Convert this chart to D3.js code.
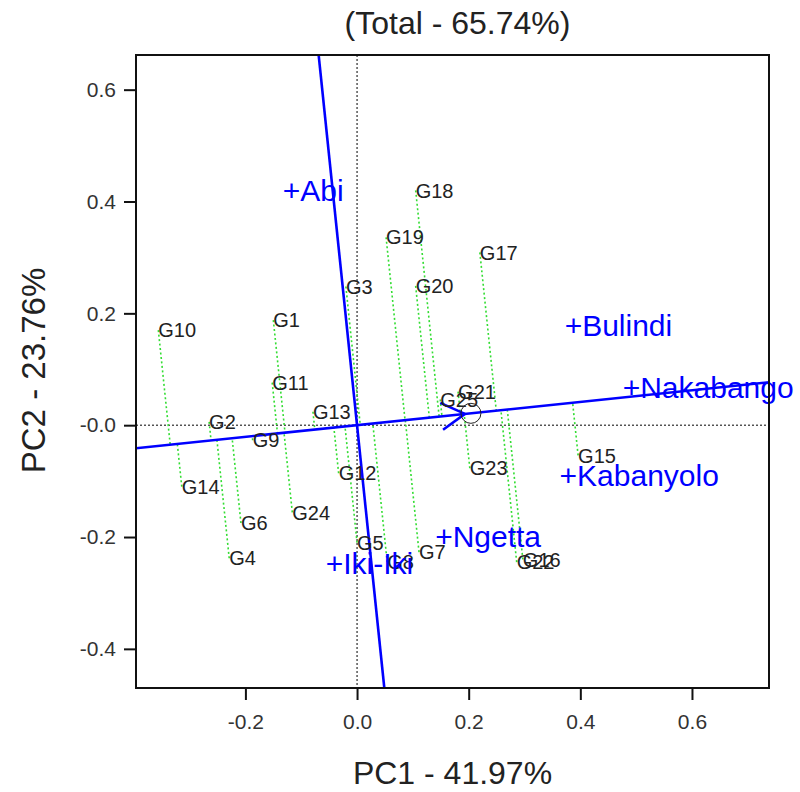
<!DOCTYPE html>
<html>
<head>
<meta charset="utf-8">
<script src="https://cdn.jsdelivr.net/npm/d3@7"></script>
<style>
  body { margin: 0; background: #fff; }
  text { font-family: "Liberation Sans", Arial, sans-serif; }
</style>
</head>
<body>
<script>
// GGE biplot, mean vs stability view
var genotypes = ['G1','G2','G3','G4','G5','G6','G7','G8','G9','G10','G11','G12','G13',
                 'G14','G15','G16','G17','G18','G19','G20','G21','G22','G23','G24','G25'];
var genoPC1 = [-0.150,-0.265,-0.020,-0.229, 0.000,-0.208, 0.111, 0.054,-0.187,-0.356,-0.152,-0.033,-0.079,
               -0.314, 0.396, 0.297, 0.220, 0.105, 0.052, 0.105, 0.181, 0.286, 0.202,-0.116, 0.149];
var genoPC2 = [ 0.188, 0.006, 0.248,-0.238,-0.210,-0.175,-0.227,-0.245,-0.027, 0.170, 0.076,-0.086, 0.024,
               -0.110,-0.054,-0.240, 0.309, 0.420, 0.336, 0.249, 0.060,-0.245,-0.077,-0.156, 0.046];

var environments = ['Abi','Bulindi','Nakabango','Kabanyolo','Ngetta','Iki-Iki'];
var envPC1 = [-0.117, 0.388, 0.492, 0.379, 0.156,-0.040];
var envPC2 = [ 0.420, 0.179, 0.068,-0.089,-0.199,-0.247];

// average environment coordinate (defines the ATC abscissa)
var avgEnv = [0.204, 0.0212];

var xTicks = [-0.2, 0.0, 0.2, 0.4, 0.6];
var yTicks = [0.6, 0.4, 0.2, 0.0, -0.2, -0.4];
var xDomain = [-0.396, 0.738];
var yDomain = [-0.470, 0.662];

var titleText = '(Total - 65.74%)';
var xLabelText = 'PC1 - 41.97%';
var yLabelText = 'PC2 - 23.76%';

var width = 800, height = 792;
var pLeft = 136, pRight = 769, pTop = 55, pBottom = 688;

var svg = d3.select('body')
  .append('svg')
  .attr('width', width)
  .attr('height', height);

var x = d3.scaleLinear().domain(xDomain).range([pLeft, pRight]);
var y = d3.scaleLinear().domain(yDomain).range([pBottom, pTop]);

function fmt(d) {
  if (d === 0) return '0.0';
  return (d < 0 ? '-' : '') + Math.abs(d).toFixed(1);
}

svg.append('clipPath')
  .attr('id', 'plotclip')
  .append('rect')
  .attr('x', pLeft).attr('y', pTop)
  .attr('width', pRight - pLeft).attr('height', pBottom - pTop);

var plot = svg.append('g').attr('clip-path', 'url(#plotclip)');

// dotted reference lines through origin
plot.append('line')
  .attr('x1', pLeft).attr('x2', pRight)
  .attr('y1', y(0)).attr('y2', y(0))
  .attr('stroke', '#000').attr('stroke-width', 1)
  .attr('stroke-dasharray', '2,2');
plot.append('line')
  .attr('x1', x(0)).attr('x2', x(0))
  .attr('y1', pTop).attr('y2', pBottom)
  .attr('stroke', '#000').attr('stroke-width', 1)
  .attr('stroke-dasharray', '2,2');

// unit vector of ATC abscissa
var len = Math.sqrt(avgEnv[0] * avgEnv[0] + avgEnv[1] * avgEnv[1]);
var ux = avgEnv[0] / len, uy = avgEnv[1] / len;

var geno = genotypes.map(function(g, i) {
  var px = genoPC1[i], py = genoPC2[i];
  var t = px * ux + py * uy;
  return { name: g, x: px, y: py, fx: t * ux, fy: t * uy };
});

// projections onto the abscissa
plot.selectAll('line.proj')
  .data(geno)
  .enter()
  .append('line')
  .attr('class', 'proj')
  .attr('x1', function(d) { return x(d.x); })
  .attr('y1', function(d) { return y(d.y); })
  .attr('x2', function(d) { return x(d.fx); })
  .attr('y2', function(d) { return y(d.fy); })
  .attr('stroke', '#33dd33')
  .attr('stroke-width', 1.6)
  .attr('stroke-dasharray', '2,2.5');

// ATC abscissa and ordinate
var L = 3;
plot.append('line')
  .attr('x1', x(-L * ux)).attr('y1', y(-L * uy))
  .attr('x2', x(L * ux)).attr('y2', y(L * uy))
  .attr('stroke', '#0000ff').attr('stroke-width', 2.6);
plot.append('line')
  .attr('x1', x(L * uy)).attr('y1', y(-L * ux))
  .attr('x2', x(-L * uy)).attr('y2', y(L * ux))
  .attr('stroke', '#0000ff').attr('stroke-width', 2.6);

// arrow head at average environment
var tipX = x(avgEnv[0]) - 6, tipY = y(avgEnv[1]) + 0.6;
var back = Math.atan2(y(0) - y(avgEnv[1]), x(0) - x(avgEnv[0]));
[-Math.PI / 6, Math.PI / 6].forEach(function(a) {
  svg.append('line')
    .attr('x1', tipX).attr('y1', tipY)
    .attr('x2', tipX + 27 * Math.cos(back + a))
    .attr('y2', tipY + 27 * Math.sin(back + a))
    .attr('stroke', '#0000ff').attr('stroke-width', 2.6);
});
svg.append('circle')
  .attr('cx', x(avgEnv[0])).attr('cy', y(avgEnv[1]))
  .attr('r', 10)
  .attr('fill', 'none')
  .attr('stroke', '#222').attr('stroke-width', 1);

// genotype labels
svg.selectAll('text.geno')
  .data(geno)
  .enter()
  .append('text')
  .attr('class', 'geno')
  .attr('x', function(d) { return x(d.x); })
  .attr('y', function(d) { return y(d.y); })
  .attr('dy', '0.36em')
  .attr('font-size', 20)
  .attr('fill', '#222')
  .text(function(d) { return d.name; });

// environment labels
svg.selectAll('text.env')
  .data(environments)
  .enter()
  .append('text')
  .attr('class', 'env')
  .attr('x', function(d, i) { return x(envPC1[i]) - 9; })
  .attr('y', function(d, i) { return y(envPC2[i]); })
  .attr('dy', '0.36em')
  .attr('font-size', 30)
  .attr('fill', '#0000ff')
  .text(function(d) { return '+' + d; });

// frame
svg.append('rect')
  .attr('x', pLeft).attr('y', pTop)
  .attr('width', pRight - pLeft).attr('height', pBottom - pTop)
  .attr('fill', 'none')
  .attr('stroke', '#111').attr('stroke-width', 2);

// axes
var xAxis = svg.append('g')
  .attr('transform', 'translate(0,' + pBottom + ')')
  .call(d3.axisBottom(x).tickValues(xTicks).tickSize(12).tickPadding(14)
    .tickFormat(fmt));
var yAxis = svg.append('g')
  .attr('transform', 'translate(' + pLeft + ',0)')
  .call(d3.axisLeft(y).tickValues(yTicks).tickSize(12).tickPadding(8)
    .tickFormat(function(d) { return d === 0 ? '-0.0' : fmt(d); }));

[xAxis, yAxis].forEach(function(ax) {
  ax.select('.domain').remove();
  ax.selectAll('line').attr('stroke', '#111').attr('stroke-width', 2);
  ax.selectAll('text')
    .attr('font-size', 21)
    .attr('fill', '#333')
    .style('font-family', '"Liberation Sans", Arial, sans-serif');
});

// titles
svg.append('text')
  .attr('x', (pLeft + pRight) / 2 + 5).attr('y', 22)
  .attr('dy', '0.36em')
  .attr('text-anchor', 'middle')
  .attr('font-size', 32)
  .attr('fill', '#222')
  .text(titleText);
svg.append('text')
  .attr('x', (pLeft + pRight) / 2).attr('y', 772)
  .attr('dy', '0.36em')
  .attr('text-anchor', 'middle')
  .attr('font-size', 32)
  .attr('fill', '#222')
  .text(xLabelText);
svg.append('text')
  .attr('transform', 'translate(33,' + ((pTop + pBottom) / 2 - 1) + ') rotate(-90)')
  .attr('dy', '0.36em')
  .attr('text-anchor', 'middle')
  .attr('font-size', 33)
  .attr('fill', '#222')
  .text(yLabelText);
</script>
</body>
</html>
